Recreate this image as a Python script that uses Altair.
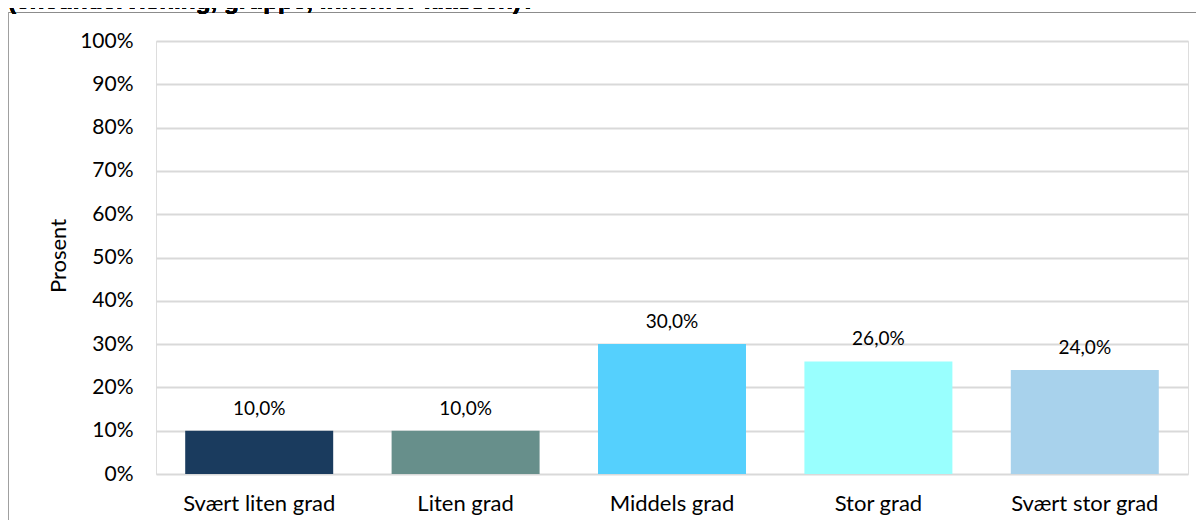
import altair as alt
import pandas as pd

categories = ["Svært liten grad", "Liten grad", "Middels grad", "Stor grad", "Svært stor grad"]
values = [10.0, 10.0, 30.0, 26.0, 24.0]
colors = ["#1A3B5E", "#678F8B", "#55D0FD", "#99FFFE", "#A8D2EC"]
title_line = "(eneundervisning, gruppe, innenfor klassen)?"
y_title = "Prosent"

df = pd.DataFrame({"kategori": categories, "verdi": values})

W, H = 1032, 433
FONT = "Lato"

x_enc = alt.X("kategori:N", sort=categories,
              scale=alt.Scale(paddingInner=0.283, paddingOuter=0.1415),
              axis=alt.Axis(title=None, labelAngle=0, domain=False, ticks=False,
                            labelPadding=19, labelFontSize=22, labelFont=FONT,
                            labelColor="#000000"))
y_enc = alt.Y("verdi:Q", scale=alt.Scale(domain=[0, 100], nice=False),
              axis=alt.Axis(title=y_title, values=list(range(0, 101, 10)),
                            labelExpr="datum.value + '%'", domain=False, ticks=False,
                            grid=True, gridColor="#D9D9D9", gridWidth=2,
                            labelPadding=23, labelFontSize=21, labelFont=FONT,
                            labelColor="#000000", titleFont=FONT, titleFontSize=22,
                            titleFontWeight="normal", titleColor="#000000",
                            titleX=-98, titleY=H / 2 - 2, titleAngle=-90,
                            titleAlign="center", titleBaseline="middle"))

bars = alt.Chart(df).mark_bar().encode(
    x=x_enc,
    y=y_enc,
    color=alt.Color("kategori:N", sort=categories,
                    scale=alt.Scale(domain=categories, range=colors), legend=None),
)

labels = alt.Chart(df).transform_calculate(
    lab="replace(format(datum.verdi, '.1f'), '.', ',') + '%'"
).mark_text(baseline="alphabetic", dy=-16, fontSize=19, font=FONT, color="#000000").encode(
    x=alt.X("kategori:N", sort=categories),
    y=alt.Y("verdi:Q"),
    text="lab:N",
)

frame_top = alt.Chart(df).mark_rule(color="#8C8C8C", strokeWidth=1).encode(
    x=alt.value(-147.5), x2=alt.value(W + 40), y=alt.value(-28.5)
)
frame_left = alt.Chart(df).mark_rule(color="#A0A0A0", strokeWidth=1).encode(
    x=alt.value(-147.5), y=alt.value(-28.5), y2=alt.value(H + 60)
)
title_text = alt.Chart(df).mark_text(
    align="left", baseline="alphabetic", fontSize=24.3, fontWeight="bold",
    font="Liberation Sans", color="#000000"
).encode(x=alt.value(-148), y=alt.value(-32.5), text=alt.value(title_line))

chart = alt.layer(frame_top, frame_left, bars, labels, title_text).properties(
    width=W, height=H,
    autosize=alt.AutoSizeParams(type="none"),
    padding={"left": 148, "top": 33, "right": 8, "bottom": 46},
).configure_view(stroke=None).configure(background="white")

chart.save("out.html", embed_options={"renderer": "svg", "actions": False})
